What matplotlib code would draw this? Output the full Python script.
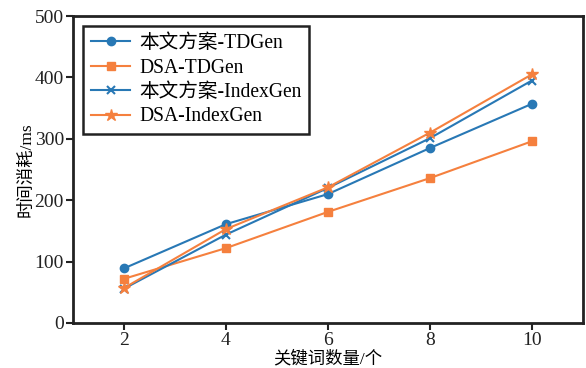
import matplotlib
matplotlib.use("Agg")
import matplotlib.pyplot as plt

x = [2, 4, 6, 8, 10]
ours_td = [89, 161, 210, 285, 357]
dsa_td = [72, 122, 181, 236, 296]
ours_idx = [56, 144, 220, 301, 395]
dsa_idx = [57, 153, 221, 310, 405]
labels = ["本文方案-TDGen", "DSA-TDGen", "本文方案-IndexGen", "DSA-IndexGen"]
xlabel = "关键词数量/个"
ylabel = "时间消耗/ms"

plt.rcParams['font.family'] = ['Liberation Serif', 'Noto Sans CJK SC']

fig = plt.figure(figsize=(5.86, 3.68), dpi=100)
ax = fig.add_axes([0.1246, 0.1223, 0.870, 0.834])

blue = '#2878b5'
orange = '#f5803e'
ax.plot(x, ours_td, color=blue, marker='o', ms=6, lw=1.5, label=labels[0])
ax.plot(x, dsa_td, color=orange, marker='s', ms=6, lw=1.5, label=labels[1])
ax.plot(x, ours_idx, color=blue, marker='x', ms=6, mew=1.5, lw=1.5, label=labels[2])
ax.plot(x, dsa_idx, color=orange, marker='*', ms=9, lw=1.5, label=labels[3])

ax.set_xlim(1, 11)
ax.set_ylim(0, 500)
ax.set_xticks(x)
ax.set_yticks([0, 100, 200, 300, 400, 500])
ax.tick_params(axis='both', labelsize=14, width=1.5, length=5, pad=1.5,
               direction='out', colors='#222222', labelcolor='#222222')
for s in ax.spines.values():
    s.set_linewidth(2)
    s.set_color('#222222')

ax.set_xlabel(xlabel, fontsize=12.5, labelpad=1)
ax.set_ylabel(ylabel, fontsize=12.5, labelpad=0)

leg = ax.legend(loc='upper left', fontsize=14.1, fancybox=False, framealpha=1,
                edgecolor='#222222', borderpad=0.4, labelspacing=0.28,
                handlelength=2.0, handletextpad=0.45, borderaxespad=0.0,
                bbox_to_anchor=(0.02, 0.967))
leg.get_frame().set_linewidth(1.8)

fig.savefig('out.png', dpi=100)
